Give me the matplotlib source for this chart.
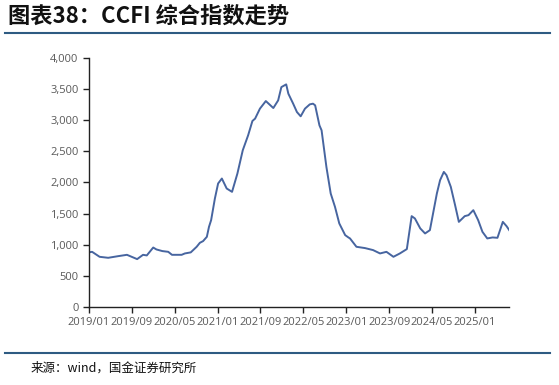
import matplotlib.pyplot as plt
from matplotlib.ticker import FuncFormatter

plt.rcParams['font.family'] = ['Noto Sans CJK SC', 'DejaVu Sans']

# 数据：自2019/01起的月份偏移量，以及CCFI综合指数
month_offset = [0, 0.6, 2, 3.6, 5.5, 7.1, 9, 10.1, 10.8, 12, 12.6, 13.7, 14.8, 15.5,
                17.3, 17.9, 19, 20.1, 20.7, 21.3, 22, 22.4, 22.8, 23.5, 24.1, 24.8,
                25.7, 26.7, 27.7, 28.7, 29.7, 30.5, 31, 31.9, 33, 34.4, 35.3, 35.9,
                36.8, 37.2, 38.1, 38.8, 39.5, 40.3, 41.2, 41.8, 42.2, 43, 43.4, 44.3,
                45.1, 45.9, 46.7, 47.8, 48.4, 48.7, 49.9, 51.5, 53, 54.3, 55.5, 56.8,
                58, 59.3, 60.2, 60.8, 61.8, 62.7, 63.6, 64.9, 65.5, 66.2, 66.7, 67.5,
                68.3, 69, 70.1, 70.8, 71.7, 72.6, 73.4, 74.3, 75.3, 76.2, 77.2, 77.9,
                78.4]
ccfi = [877, 886, 806, 790, 817, 838, 769, 838, 828, 955, 924, 898, 886, 838,
        838, 860, 877, 967, 1031, 1058, 1127, 1287, 1395, 1742, 1983, 2063,
        1903, 1849, 2143, 2517, 2757, 2987, 3025, 3185, 3307, 3195, 3318, 3531,
        3575, 3426, 3265, 3131, 3062, 3185, 3254, 3265, 3238, 2917, 2837, 2249,
        1823, 1608, 1342, 1154, 1117, 1101, 967, 946, 914, 860, 886, 806,
        860, 930, 1459, 1422, 1262, 1181, 1234, 1823, 2036, 2169, 2116, 1929,
        1635, 1367, 1459, 1475, 1555, 1395, 1207, 1101, 1117, 1111, 1367, 1298,
        1234]

x_ticks = [0, 8, 16, 24, 32, 40, 48, 56, 64, 72]
x_labels = ['2019/01', '2019/09', '2020/05', '2021/01', '2021/09',
            '2022/05', '2023/01', '2023/09', '2024/05', '2025/01']
y_ticks = [0, 500, 1000, 1500, 2000, 2500, 3000, 3500, 4000]

fig = plt.figure(figsize=(5.59, 3.85), dpi=100)
ax = fig.add_axes([0.159, 0.2026, 0.752, 0.647])

ax.plot(month_offset, ccfi, color='#4765a0', linewidth=1.4)

ax.set_xlim(0, 78.4)
ax.set_ylim(0, 4000)
ax.set_xticks(x_ticks)
ax.set_xticklabels(x_labels)
ax.set_yticks(y_ticks)
ax.yaxis.set_major_formatter(FuncFormatter(lambda v, p: f'{int(v):,}'))

for side in ['top', 'right']:
    ax.spines[side].set_visible(False)
for side in ['left', 'bottom']:
    ax.spines[side].set_color('#222222')
    ax.spines[side].set_linewidth(1.0)
ax.tick_params(axis='both', direction='out', length=4, width=1, color='#222222',
               labelsize=8, labelcolor='#595959')
for lab in ax.get_xticklabels() + ax.get_yticklabels():
    lab.set_family(['Open Sans', 'DejaVu Sans'])

# 标题与分隔线
fig.text(0.014, 0.958, '图表38：CCFI 综合指数走势', fontsize=16, weight='bold',
         color='#111111', ha='left', va='center')
fig.add_artist(plt.Line2D([0.009, 0.984], [0.914, 0.914], color='#2e5b82', linewidth=1.5))
fig.add_artist(plt.Line2D([0.009, 0.984], [0.083, 0.083], color='#2e5b82', linewidth=1.5))
fig.text(0.054, 0.043, '来源：wind，国金证券研究所', fontsize=9, color='#111111',
         ha='left', va='center')

plt.savefig('out.png', dpi=100)
